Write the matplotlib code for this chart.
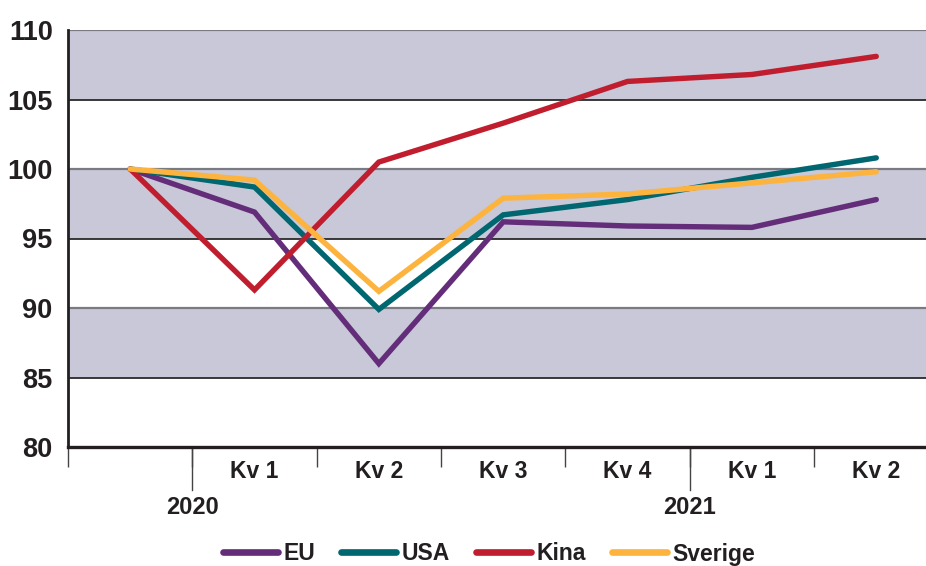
import matplotlib
matplotlib.use("Agg")
import matplotlib.pyplot as plt
from matplotlib.lines import Line2D
import matplotlib.transforms as mtransforms

# ---- data ----
categories = ["", "Kv 1", "Kv 2", "Kv 3", "Kv 4", "Kv 1", "Kv 2"]
years = ["2020", "2021"]
eu = [100, 96.9, 86.0, 96.2, 95.9, 95.8, 97.8]
usa = [100, 98.7, 89.9, 96.7, 97.8, 99.4, 100.8]
kina = [100, 91.3, 100.5, 103.3, 106.3, 106.8, 108.1]
sverige = [100, 99.2, 91.2, 97.9, 98.2, 99.0, 99.8]
series_names = ["EU", "USA", "Kina", "Sverige"]
yticks = [80, 85, 90, 95, 100, 105, 110]

colors = ["#642D7A", "#00666F", "#C01E2E", "#FDB43F"]
txt = "#231F20"
band = "#C8C8D8"

narrow = ["Liberation Sans Narrow", "Liberation Sans", "DejaVu Sans"]
plt.rcParams["font.family"] = narrow

fig = plt.figure(figsize=(9.26, 5.66), dpi=100)
ax = fig.add_axes([68 / 926, 1 - 447 / 566, 1 - 68 / 926, (447 - 30) / 566])

x = list(range(len(categories)))
ax.set_xlim(-0.5, 6.4)
ax.set_ylim(80, 110)

# bands and grid lines
for lo in (85, 95, 105):
    ax.axhspan(lo, lo + 5, color=band, lw=0, zorder=0)
for v in (85, 95, 105):
    ax.axhline(v, color="#2a2a2a", lw=1.3, zorder=1)
for v in (90, 100, 110):
    ax.axhline(v, color="#7a7a82", lw=1.6, zorder=1)

for vals, name, c in zip([eu, usa, kina, sverige], series_names, colors):
    ax.plot(x, vals, color=c, lw=3.9, label=name, zorder=3,
            solid_capstyle="round", solid_joinstyle="miter")

# spines
for s in ("top", "right"):
    ax.spines[s].set_visible(False)
ax.spines["left"].set_linewidth(2.0)
ax.spines["left"].set_color(txt)
ax.spines["bottom"].set_linewidth(2.4)
ax.spines["bottom"].set_color(txt)

# y ticks
ax.set_yticks(yticks)
ax.set_yticklabels([str(v) for v in yticks], family=["Liberation Sans", "DejaVu Sans"],
                   fontsize=19.5, fontweight="bold", color=txt)
ax.tick_params(axis="y", length=0, pad=11)

# x ticks: labels at centres, boundary ticks as minor ticks
ax.set_xticks(x)
ax.set_xticklabels(categories, fontsize=16.5, fontweight="bold", color=txt)
ax.tick_params(axis="x", which="major", length=0, pad=9)
ax.set_xticks([i - 0.5 for i in range(len(categories))], minor=True)
ax.tick_params(axis="x", which="minor", length=14.5, width=1.0, color="#444444", direction="out")

# longer year-boundary ticks and year labels
trans = mtransforms.blended_transform_factory(ax.transData, ax.transAxes)
ax_h_px = 447 - 30
for xb, yr in zip([0.5, 4.5], years):
    ax.add_line(Line2D([xb, xb], [0, -43 / ax_h_px], transform=trans,
                       color="#444444", lw=1.0, clip_on=False))
    ax.text(xb, -60 / ax_h_px, yr, transform=trans, ha="center", va="center",
            fontsize=17, fontweight="bold", color=txt)

leg = fig.legend(loc="center", bbox_to_anchor=(489 / 926, 1 - 554 / 566), ncol=4,
                 frameon=False, fontsize=16.5, handlelength=2.4, handletextpad=0.22,
                 columnspacing=1.15, borderpad=0, borderaxespad=0)
for t in leg.get_texts():
    t.set_fontweight("bold")
    t.set_color(txt)
for h in leg.get_lines():
    h.set_linewidth(4.8)
    h.set_solid_capstyle("round")

fig.savefig("out.png", dpi=100)
